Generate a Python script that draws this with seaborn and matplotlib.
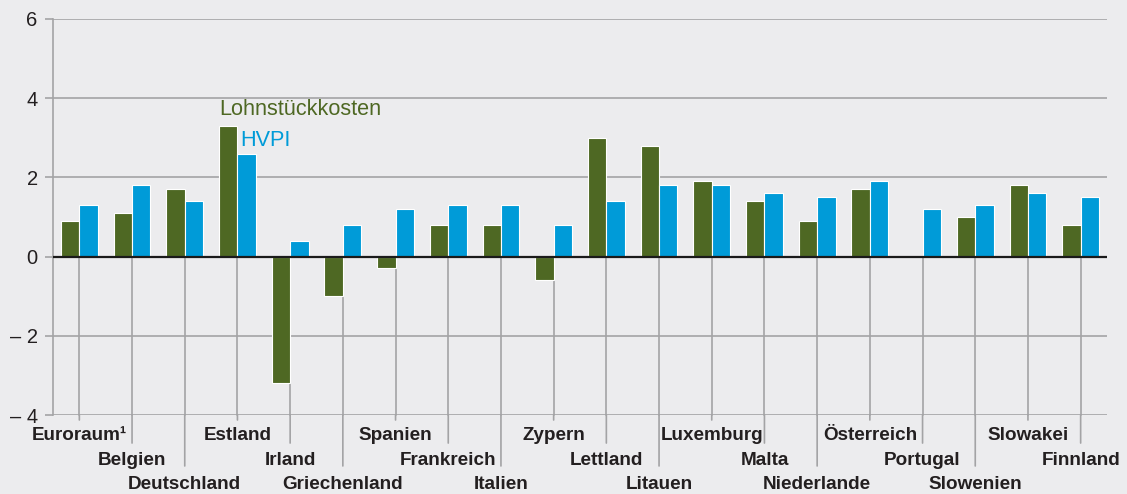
import numpy as np
import pandas as pd
import matplotlib
matplotlib.use("Agg")
import matplotlib.pyplot as plt
import seaborn as sns

categories = ["Euroraum¹", "Belgien", "Deutschland", "Estland", "Irland", "Griechenland",
              "Spanien", "Frankreich", "Italien", "Zypern", "Lettland", "Litauen",
              "Luxemburg", "Malta", "Niederlande", "Österreich", "Portugal", "Slowenien",
              "Slowakei", "Finnland"]
lohnstueckkosten = [0.9, 1.1, 1.7, 3.3, -3.2, -1.0, -0.3, 0.8, 0.8, -0.6, 3.0, 2.8,
                    1.9, 1.4, 0.9, 1.7, np.nan, 1.0, 1.8, 0.8]
hvpi = [1.3, 1.8, 1.4, 2.6, 0.4, 0.8, 1.2, 1.3, 1.3, 0.8, 1.4, 1.8,
        1.8, 1.6, 1.5, 1.9, 1.2, 1.3, 1.6, 1.5]
series_names = ["Lohnstückkosten", "HVPI"]
yticks = [-4, -2, 0, 2, 4, 6]
ytick_labels = ["\u2013 4", "\u2013 2", "0", "2", "4", "6"]

green = "#4e6823"
blue = "#009bd8"
bg = "#ececee"
grid_c = "#a3a3a5"
text_c = "#231f20"

df = pd.DataFrame({
    "Land": categories * 2,
    "Wert": lohnstueckkosten + hvpi,
    "Reihe": [series_names[0]] * len(categories) + [series_names[1]] * len(categories),
})

sns.set_theme(style="white")
plt.rcParams["font.family"] = ["Liberation Sans", "DejaVu Sans"]

fig = plt.figure(figsize=(11.27, 4.94), dpi=100, facecolor=bg)
ax = fig.add_axes([53 / 1127, 1 - 415 / 494, (1107 - 53) / 1127, (415 - 19) / 494])
ax.set_facecolor(bg)

sns.barplot(data=df, x="Land", y="Wert", hue="Reihe", order=categories,
            hue_order=series_names, palette={series_names[0]: green, series_names[1]: blue},
            width=0.7, saturation=1, edgecolor="white", linewidth=0.8,
            legend=False, ax=ax, zorder=3)

ax.set_xlim(-0.5, len(categories) - 0.5)
ax.set_ylim(-4, 6)
ax.set_xlabel("")
ax.set_ylabel("")

# horizontal grid
for y in yticks:
    if y == 0:
        continue
    ax.axhline(y, color=grid_c, lw=1.2, zorder=1)
ax.axhline(0, color="#1a1a1a", lw=1.6, zorder=4)

ax.set_yticks(yticks)
ax.set_yticklabels(ytick_labels, fontsize=14.5, color=text_c)
ax.tick_params(axis="y", length=6, width=1.2, color=grid_c, pad=5, left=True)
ax.set_xticks([])

for s in ["top", "right", "bottom"]:
    ax.spines[s].set_visible(False)
ax.spines["left"].set_color(grid_c)
ax.spines["left"].set_linewidth(1.2)

# staggered category labels with leader lines
line_ends_pt = [3.6, 20.2, 36.7]
label_off_pt = [14.4, 32.5, 50.0]
for i, name in enumerate(categories):
    row = i % 3
    ax.plot([i, i], [0, -4], color=grid_c, lw=1.2, zorder=1, clip_on=False)
    ax.annotate("", xy=(i, -4), xycoords="data",
                xytext=(0, -line_ends_pt[row]), textcoords="offset points",
                arrowprops=dict(arrowstyle="-", color=grid_c, lw=1.2,
                                shrinkA=0, shrinkB=0),
                annotation_clip=False)
    ax.annotate(name, xy=(i, -4), xycoords="data",
                xytext=(0, -label_off_pt[row]), textcoords="offset points",
                ha="center", va="center", fontsize=13.6, fontweight="bold",
                color=text_c, annotation_clip=False)

# series labels
ax.text(2.66, 3.71, series_names[0], color=green, fontsize=15.6, ha="left", va="center")
ax.text(3.06, 2.93, series_names[1], color=blue, fontsize=15.6, ha="left", va="center")

fig.savefig("out.png", dpi=100, facecolor=bg)
